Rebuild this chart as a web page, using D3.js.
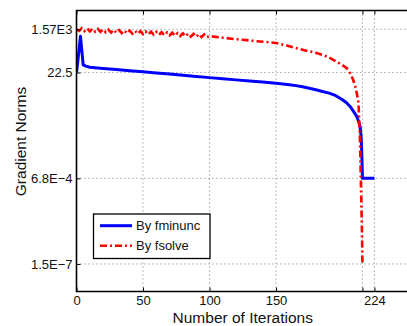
<!DOCTYPE html>
<html>
<head>
<meta charset="utf-8">
<script src="https://cdn.jsdelivr.net/npm/d3@7"></script>
<style>
  body { margin: 0; background: #fff; }
  svg { display: block; font-family: "Liberation Sans", Arial, Helvetica, sans-serif; }
</style>
</head>
<body>
<svg id="chart" width="407" height="326"></svg>
<script>
// fminunc run
const fminuncIter = [0, 1, 3, 5, 7, 10, 20, 30, 40, 50, 60, 70, 80, 90, 100, 110, 120, 130, 140, 150,
  160, 165, 170, 175, 180, 185, 190, 195, 200, 203, 205.7, 208, 210.7, 212, 213.2, 214, 214.5, 215, 224];
const fminuncNorm = [22.5, 70, 800, 48, 42, 37.6, 33.5, 30, 27, 24.1, 21.5, 19.2, 17.1, 15.2, 13.6, 12.2, 10.9, 9.8, 8.8, 7.8,
  6.8, 6.2, 5.5, 4.8, 4.1, 3.5, 2.97, 2.3, 1.55, 1.15, 0.8, 0.52, 0.3, 0.19, 0.111, 0.04, 0.0084, 6.8e-4, 6.8e-4];

// fsolve run
const fsolveIter = [0, 2, 4, 6, 8, 10, 12, 14, 16, 18, 20, 22, 24, 26, 28, 30, 32, 34, 36, 38, 40,
  42, 44, 46, 48, 50, 52, 54, 56, 58, 60, 62, 64, 66, 68, 70, 72, 74, 76, 78, 80,
  82, 84, 86, 88, 90, 92, 94, 96, 98, 100,
  110, 118, 125, 135, 143, 150, 158, 165, 170, 175, 180, 185, 190, 195, 199, 203, 206, 208, 209.5,
  210.7, 212, 212.6, 213.2, 214, 214.6, 215];
const fsolveNorm = [1570, 1348, 1758, 1312, 1711, 1278, 1666, 1244, 1623, 1212, 1580, 1180, 1539, 1148, 1498, 1119, 1459, 1089, 1420, 1061, 1383,
  1033, 1347, 1006, 1312, 980, 1278, 954, 1244, 928, 1211, 904, 1180, 880, 1149, 858, 1119, 835, 1089, 813, 1060,
  792, 1033, 771, 1006, 751, 980, 732, 953, 712, 808,
  690, 610, 561, 490, 450, 408, 320, 248, 212, 180, 155, 128, 98, 68, 50, 35, 20, 11, 6,
  3, 1.15, 0.2, 0.022, 1.6e-4, 5e-6, 1.5e-7];

const xTicks = [0, 50, 100, 150, 215, 224];
const xTickLabels = ["0", "50", "100", "150", "", "224"];
const yTicks = [1.57e3, 22.5, 6.8e-4, 1.5e-7];
const yTickLabels = ["1.57E3", "22.5", "6.8E\u22124", "1.5E\u22127"];
const seriesNames = ["By fminunc", "By fsolve"];

const svg = d3.select("#chart");
const plotLeft = 76.5, plotRight = 409, plotTop = 10.5, plotBottom = 291.5;

const x = d3.scaleLinear().domain([0, 250]).range([plotLeft, plotRight]);
const y = d3.scaleLog().domain([1e-8, 1e4]).range([plotBottom, plotTop]);

svg.append("defs").append("clipPath").attr("id", "plotArea")
  .append("rect").attr("x", plotLeft).attr("y", plotTop)
  .attr("width", plotRight - plotLeft).attr("height", plotBottom - plotTop);

// grid
const grid = svg.append("g").attr("stroke", "#7a7a7a").attr("stroke-width", 1).attr("stroke-dasharray", "1,3");
grid.selectAll(".gx").data(xTicks.slice(1)).join("line")
  .attr("x1", d => x(d)).attr("x2", d => x(d)).attr("y1", plotTop).attr("y2", plotBottom);
grid.selectAll(".gy").data(yTicks).join("line")
  .attr("x1", plotLeft).attr("x2", plotRight).attr("y1", d => y(d)).attr("y2", d => y(d));

// lines
const line = d3.line().x(d => x(d[0])).y(d => y(d[1]));
const plot = svg.append("g").attr("clip-path", "url(#plotArea)");
plot.append("path")
  .datum(d3.zip(fminuncIter, fminuncNorm))
  .attr("d", line)
  .attr("fill", "none").attr("stroke", "#0000ff").attr("stroke-width", 3)
  .attr("stroke-linejoin", "round");
plot.append("path")
  .datum(d3.zip(fsolveIter, fsolveNorm))
  .attr("d", line)
  .attr("fill", "none").attr("stroke", "#ff0000").attr("stroke-width", 2.6)
  .attr("stroke-dasharray", "7,3,2,3");

// axes (inward ticks, box on)
const xAxis = d3.axisBottom(x).tickValues(xTicks).tickFormat((d, i) => xTickLabels[i]).tickSizeInner(-4).tickSizeOuter(0).tickPadding(4);
const yAxis = d3.axisLeft(y).tickValues(yTicks).tickFormat((d, i) => yTickLabels[i]).tickSizeInner(-4).tickSizeOuter(0).tickPadding(4);

const gx = svg.append("g").attr("transform", `translate(0,${plotBottom})`).call(xAxis);
const gy = svg.append("g").attr("transform", `translate(${plotLeft},0)`).call(yAxis);
const gt = svg.append("g").attr("transform", `translate(0,${plotTop})`)
  .call(d3.axisTop(x).tickValues(xTicks).tickFormat("").tickSizeInner(-4).tickSizeOuter(0));

[gx, gy].forEach(g => {
  g.selectAll("text").attr("font-size", 13).attr("fill", "#111")
    .attr("font-family", "'Liberation Sans', Arial, sans-serif");
});
[gx, gy, gt].forEach(g => g.select(".domain").remove());
svg.selectAll(".tick line").attr("stroke", "#000");

// frame
svg.append("path")
  .attr("d", `M${plotRight},${plotTop}H${plotLeft}V${plotBottom}H${plotRight}`)
  .attr("fill", "none").attr("stroke", "#000").attr("stroke-width", 1.6);

// axis titles
svg.append("text")
  .attr("x", (plotLeft + plotRight) / 2).attr("y", 322.5)
  .attr("text-anchor", "middle").attr("font-size", 15.5).attr("fill", "#111")
  .text("Number of Iterations");
svg.append("text")
  .attr("transform", "translate(26,141.5) rotate(-90)")
  .attr("text-anchor", "middle").attr("font-size", 15.5).attr("fill", "#111")
  .text("Gradient Norms");

// legend
const leg = svg.append("g");
leg.append("rect").attr("x", 93.5).attr("y", 214).attr("width", 116.5).attr("height", 44.5)
  .attr("fill", "#fff").attr("stroke", "#000").attr("stroke-width", 1.3);
const legStyles = [
  { color: "#0000ff", width: 3, dash: null },
  { color: "#ff0000", width: 2.6, dash: "7,3,2,3" }
];
seriesNames.forEach((name, i) => {
  const ly = 225.7 + i * 20;
  leg.append("line").attr("x1", 100).attr("x2", 132).attr("y1", ly).attr("y2", ly)
    .attr("stroke", legStyles[i].color).attr("stroke-width", legStyles[i].width)
    .attr("stroke-dasharray", legStyles[i].dash);
  leg.append("text").attr("x", 136).attr("y", ly + 4.7)
    .attr("font-size", 13).attr("fill", "#111").text(name);
});
</script>
</body>
</html>
